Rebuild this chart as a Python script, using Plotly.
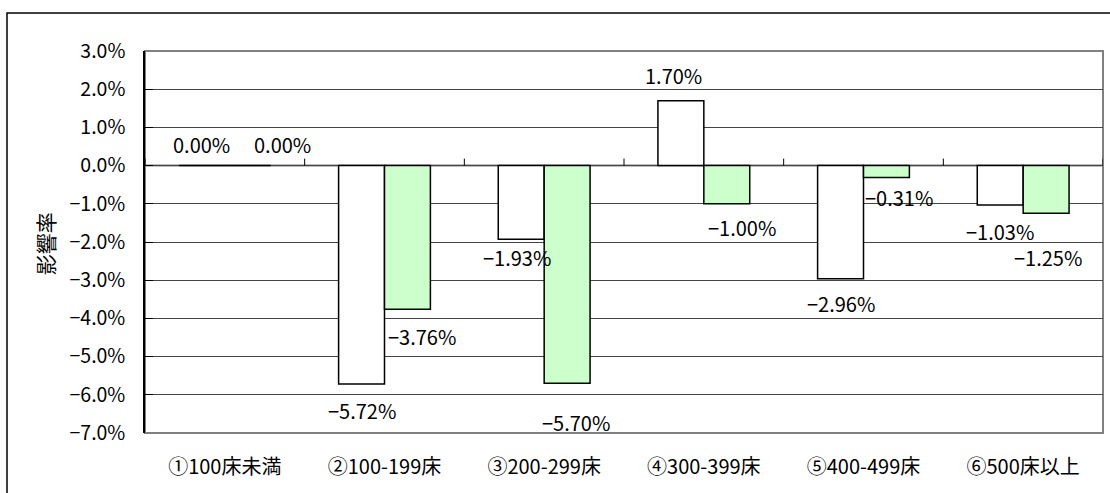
import plotly.graph_objects as go

categories = ["①100床未満", "②100-199床", "③200-299床", "④300-399床", "⑤400-499床", "⑥500床以上"]
series_a = [0.00, -5.72, -1.93, 1.70, -2.96, -1.03]   # white bars
series_b = [0.00, -3.76, -5.70, -1.00, -0.31, -1.25]  # green bars
y_ticks = [3, 2, 1, 0, -1, -2, -3, -4, -5, -6, -7]
y_title = "影響率"

# label pixel offsets (dx, dy) relative to bar end, layout only
off_a = [(0, -21), (0, 26), (-4, 18), (-7, -25), (0, 25), (0, 27)]
off_b = [(35, -21), (15, 27), (9, 39), (15, 24), (13, 20), (2, 44)]

FONT = "Noto Sans CJK JP"
BARGAP = 0.425
half = (1 - BARGAP) / 4

def fmt(v, d):
    s = f"{v:.{d}f}%"
    return s.replace("-", "−")

fig = go.Figure()
fig.add_bar(x=categories, y=series_a, marker=dict(color="white", line=dict(color="black", width=1.5)), name="a")
fig.add_bar(x=categories, y=series_b, marker=dict(color="#CCFFCC", line=dict(color="black", width=1.5)), name="b")

ann = []
for i, (v, (dx, dy)) in enumerate(zip(series_a, off_a)):
    ann.append(dict(x=i - half, y=v, xref="x", yref="y", text=fmt(v, 2), showarrow=False,
                    xshift=dx, yshift=-dy, font=dict(size=20, color="black", family=FONT)))
for i, (v, (dx, dy)) in enumerate(zip(series_b, off_b)):
    ann.append(dict(x=i + half, y=v, xref="x", yref="y", text=fmt(v, 2), showarrow=False,
                    xshift=dx, yshift=-dy, font=dict(size=20, color="black", family=FONT)))
ann.append(dict(x=-0.104, y=0.495, xref="paper", yref="paper", text=y_title, textangle=-90,
                xanchor="center", yanchor="middle",
                showarrow=False, font=dict(size=21, color="black", family=FONT)))

W, H = 1110, 493
ml, mr, mt, mb = 145, 7, 51, 60
pw, ph = W - ml - mr, H - mt - mb

shapes = []
# category boundary ticks on the zero line
for k in range(len(categories) + 1):
    shapes.append(dict(type="line", xref="x", yref="y", x0=k - 0.5, x1=k - 0.5, y0=0, y1=7,
                       ysizemode="pixel", yanchor=0, line=dict(color="black", width=1)))
# zero line
shapes.append(dict(type="line", xref="paper", yref="y", x0=0, x1=1, y0=0, y1=0,
                   line=dict(color="black", width=1.5), layer="below"))
# plot border (gray)
shapes.append(dict(type="rect", xref="paper", yref="paper", x0=0, x1=1, y0=0, y1=1,
                   line=dict(color="#808080", width=2), layer="below"))
# outer chart frame
shapes.append(dict(type="rect", xref="paper", yref="paper",
                   x0=(7 - ml) / pw, x1=(W + 10 - ml) / pw,
                   y0=(H - mb - (H + 10)) / ph, y1=1 + (mt - 13) / ph,
                   line=dict(color="black", width=1.5)))

fig.update_layout(
    width=W, height=H,
    margin=dict(l=ml, r=mr, t=mt, b=mb),
    paper_bgcolor="white", plot_bgcolor="white",
    barmode="group", bargap=BARGAP, bargroupgap=0,
    showlegend=False,
    font=dict(family=FONT, color="black"),
    annotations=ann, shapes=shapes,
    xaxis=dict(showgrid=False, showline=False, ticks="", tickfont=dict(size=20, family=FONT),
               range=[-0.5, len(categories) - 0.5], ticklabelstandoff=20, fixedrange=True),
    yaxis=dict(range=[-7, 3], tickvals=y_ticks, ticktext=[fmt(t, 1) for t in y_ticks],
               tickfont=dict(size=19.5, family=FONT), showgrid=True, gridcolor="#444444", gridwidth=1,
               zeroline=False, showline=True, linecolor="black", linewidth=1.5,
               ticks="inside", ticklen=8, tickcolor="black", ticklabelstandoff=14, fixedrange=True),
)

fig.write_html("out.html", config=dict(displayModeBar=False),
               post_script="document.body.style.margin='0';document.body.style.overflow='hidden';")
